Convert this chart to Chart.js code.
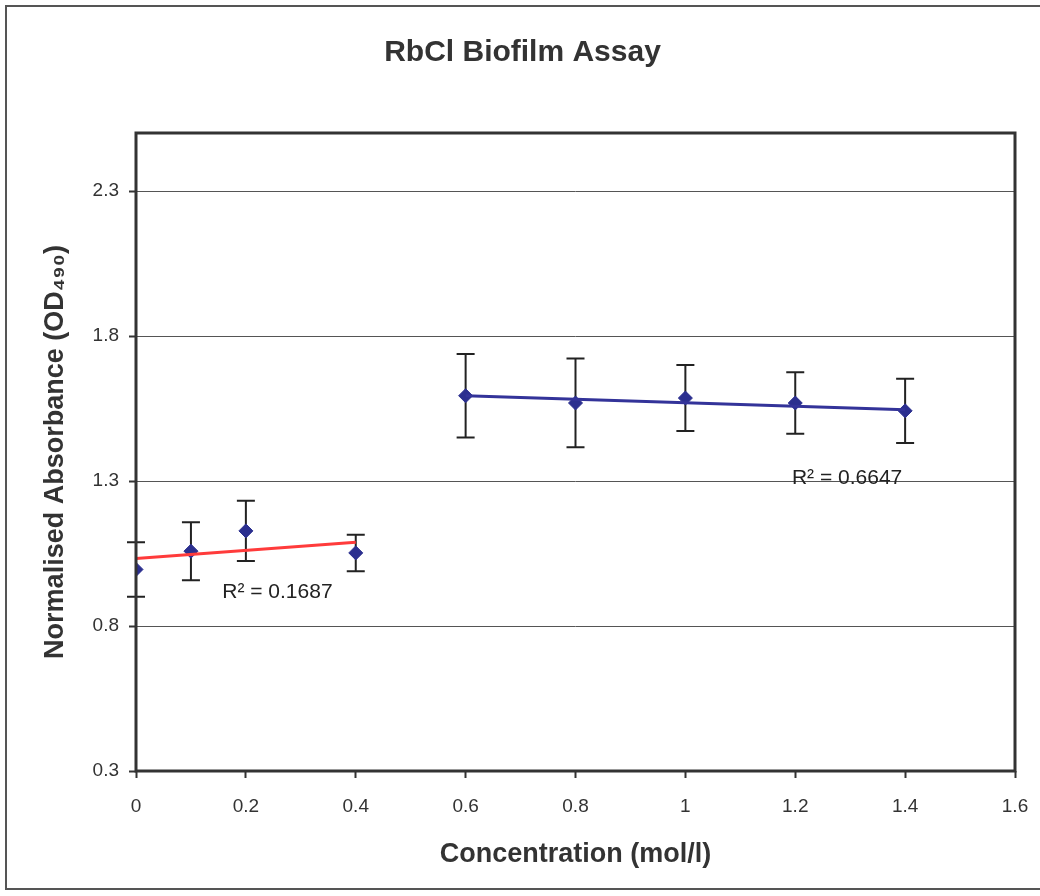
<!DOCTYPE html>
<html>
<head>
<meta charset="utf-8">
<script src="https://cdn.jsdelivr.net/npm/chart.js@4.4.1/dist/chart.umd.min.js"></script>
<style>
  html, body { margin: 0; padding: 0; background: #fff; }
  #wrap { width: 1040px; height: 896px; position: relative; }
</style>
</head>
<body>
<div id="wrap"><canvas id="myChart"></canvas></div>
<script>
// values
const xRed = [0, 0.1, 0.2, 0.4]
const yRed = [0.995, 1.058, 1.128, 1.052]
const errRed = [0.094, 0.10, 0.104, 0.063]

const xBlue = [0.6, 0.8, 1.0, 1.2, 1.4]
const yBlue = [1.594, 1.569, 1.586, 1.569, 1.542]
const errBlue = [0.144, 0.153, 0.114, 0.106, 0.111]

// trendline end points (as drawn)
const trendRedX = [0, 0.4]
const trendRedY = [1.033, 1.089]
const trendBlueX = [0.6, 1.4]
const trendBlueY = [1.594, 1.546]

const r2Text = ['R\u00B2 = 0.1687', 'R\u00B2 = 0.6647']
const r2X = [0.157, 1.194]
const r2Y = [0.917, 1.31]

const xTicks = [0, 0.2, 0.4, 0.6, 0.8, 1, 1.2, 1.4, 1.6]
const yTicks = [0.3, 0.8, 1.3, 1.8, 2.3]

const FONT = "'Liberation Sans', Arial, sans-serif"
const pts = (xs, ys) => xs.map((x, i) => ({ x: x, y: ys[i] }))
const fmt = v => String(+Number(v).toFixed(1))

const background = {
  id: 'background',
  beforeDraw(chart) {
    const c = chart.ctx
    c.save()
    c.fillStyle = '#fff'
    c.fillRect(0, 0, chart.width, chart.height)
    c.restore()
  },
  afterDraw(chart) {
    const c = chart.ctx
    const a = chart.chartArea
    c.save()
    // outer frame
    c.strokeStyle = '#555'
    c.lineWidth = 2
    c.strokeRect(6, 6, chart.width, 883)
    // plot area border
    c.strokeStyle = '#333'
    c.lineWidth = 3
    c.strokeRect(a.left, a.top, a.right - a.left, a.bottom - a.top)
    // R squared labels
    c.fillStyle = '#222'
    c.font = '21px ' + FONT
    c.textBaseline = 'middle'
    c.textAlign = 'left'
    r2Text.forEach((t, i) => {
      c.fillText(t, chart.scales.x.getPixelForValue(r2X[i]), chart.scales.y.getPixelForValue(r2Y[i]))
    })
    c.restore()
  }
}

const errorBars = {
  id: 'errorBars',
  beforeDatasetsDraw(chart) {
    const c = chart.ctx
    const xs = chart.scales.x
    const ys = chart.scales.y
    c.save()
    c.strokeStyle = '#222'
    c.lineWidth = 2
    chart.data.datasets.forEach(ds => {
      if (!ds.errors) return
      ds.data.forEach((p, i) => {
        const px = xs.getPixelForValue(p.x)
        const top = ys.getPixelForValue(p.y + ds.errors[i])
        const bot = ys.getPixelForValue(p.y - ds.errors[i])
        c.beginPath()
        c.moveTo(px, top); c.lineTo(px, bot)
        c.moveTo(px - 9, top); c.lineTo(px + 9, top)
        c.moveTo(px - 9, bot); c.lineTo(px + 9, bot)
        c.stroke()
      })
    })
    c.restore()
  }
}

const ctx = document.getElementById('myChart')
const myChart = new Chart(ctx, {
  type: 'scatter',
  data: {
    datasets: [{
      data: pts(xRed, yRed),
      errors: errRed,
      pointStyle: 'rectRot',
      pointRadius: 7,
      backgroundColor: '#2B2F8F',
      borderColor: '#2B2F8F',
      order: 2
    }, {
      data: pts(xBlue, yBlue),
      errors: errBlue,
      pointStyle: 'rectRot',
      pointRadius: 7,
      backgroundColor: '#2B2F8F',
      borderColor: '#2B2F8F',
      order: 2
    }, {
      type: 'line',
      data: pts(trendRedX, trendRedY),
      borderColor: '#FF3B3B',
      borderWidth: 3,
      pointRadius: 0,
      fill: false,
      order: 1
    }, {
      type: 'line',
      data: pts(trendBlueX, trendBlueY),
      borderColor: '#333399',
      borderWidth: 3,
      pointRadius: 0,
      fill: false,
      order: 1
    }]
  },
  options: {
    responsive: true,
    maintainAspectRatio: false,
    animation: false,
    layout: { padding: { left: 30, right: 25, top: 0, bottom: 0 } },
    scales: {
      x: {
        type: 'linear',
        min: 0,
        max: 1.6,
        afterBuildTicks: s => { s.ticks = xTicks.map(v => ({ value: v })) },
        afterFit: s => { s.height = 125; s.paddingLeft = 0; s.paddingRight = 0 },
        grid: { drawOnChartArea: false, tickLength: 7, tickColor: '#333', tickWidth: 2 },
        border: { display: false },
        ticks: { padding: 17, color: '#333', font: { family: FONT, size: 19 }, maxRotation: 0, callback: fmt },
        title: {
          display: true,
          text: 'Concentration (mol/l)',
          color: '#333',
          font: { family: FONT, size: 27, weight: 'bold' },
          padding: { top: 0, bottom: 25 }
        }
      },
      y: {
        type: 'linear',
        min: 0.3,
        max: 2.5,
        afterBuildTicks: s => { s.ticks = yTicks.map(v => ({ value: v })) },
        afterFit: s => { s.width = 106 },
        grid: { color: '#555', lineWidth: 1, tickLength: 7, tickColor: '#333', tickWidth: 2 },
        border: { display: false },
        ticks: { padding: 10, color: '#333', font: { family: FONT, size: 19 }, callback: fmt },
        title: {
          display: true,
          text: 'Normalised Absorbance (OD\u2084\u2089\u2080)',
          color: '#333',
          font: { family: FONT, size: 27, weight: 'bold' },
          padding: { top: 9, bottom: 0 }
        }
      }
    },
    plugins: {
      legend: { display: false },
      tooltip: { enabled: false },
      title: {
        display: true,
        text: 'RbCl Biofilm Assay',
        color: '#333',
        font: { family: FONT, size: 30, weight: 'bold' },
        padding: { top: 35, bottom: 62 }
      }
    }
  },
  plugins: [background, errorBars]
})
</script>
</body>
</html>
